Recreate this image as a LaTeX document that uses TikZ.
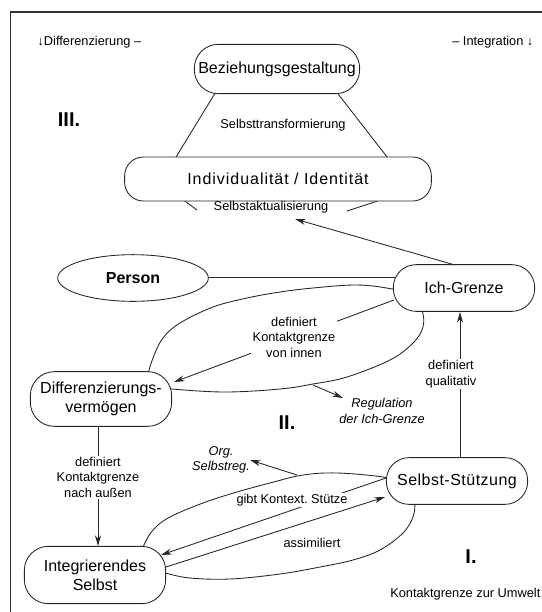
\documentclass[tikz,border=0pt]{standalone}
\usepackage{fontspec}
\setmainfont{Liberation Sans}
\newfontfamily\widesans[LetterSpace=6]{Liberation Sans}
\newfontfamily\semiwidesans[LetterSpace=3]{Liberation Sans}
\usetikzlibrary{arrows.meta,shapes.geometric}
\begin{document}
\frenchspacing
\begin{tikzpicture}[x=0.75pt,y=-0.75pt,
  ln/.style={line width=0.65pt, draw=black!85},
  box/.style={ln, fill=white, rounded corners=15pt, font=\fontsize{12}{14.5}\selectfont, align=center, inner sep=2pt},
  lbl/.style={font=\fontsize{9.6}{11.6}\selectfont, align=center, inner sep=1pt},
  wlbl/.style={lbl, fill=white},
  ilbl/.style={lbl, font=\fontsize{9.6}{11.6}\selectfont\itshape},
  arr/.style={ln, -{Stealth[length=8pt,width=4.5pt]}},
  num/.style={font=\fontsize{15}{17}\selectfont\bfseries, inner sep=0pt}
]
\useasboundingbox (0,0) rectangle (542,612);
\draw[line width=0.8pt, draw=black!80] (10.5,612) -- (10.5,12) -- (542,12);

% top texts
\node[lbl, anchor=west] (tdiff) at (36,42) {↓Differenzierung –};
\node[lbl, anchor=east] (tint) at (535,42) {– Integration ↓};
\node[num] (n3) at (69,120) {III.};

% ellipses (behind nodes)
\draw[ln] plot[smooth cycle, tension=0.6] coordinates {(147,380) (153,358) (163,338) (180,323) (213,307) (247,298) (280,292) (313,288) (357,285) (392,289) (413,296) (422,310) (423,327) (413,343) (390,360) (347,377) (313,384) (280,389) (225,392) (172,389) (152,386)};
\draw[ln] plot[smooth cycle, tension=0.6] coordinates {(138,562) (143,547) (153,530) (170,517) (203,503) (237,492) (270,483) (303,475) (337,473) (383,477) (403,483) (414,493) (415,502) (413,517) (403,533) (380,550) (353,560) (320,567) (280,574) (230,579) (190,578) (165,573) (145,568)};

% trapezoid lines
\coordinate (b1) at (217,90);
\coordinate (b2) at (173,162);
\coordinate (b3) at (335,90);
\coordinate (b4) at (391,162);
\coordinate (b5) at (178,196);
\coordinate (b6) at (197,210);
\coordinate (b7) at (393,196);
\coordinate (b8) at (347,211);
\draw[ln] (b1) -- (b2);
\draw[ln] (b3) -- (b4);
\draw[ln] (b5) -- (b6);
\draw[ln] (b7) -- (b8);
% person - ich line
\coordinate (p1) at (200,277);
\coordinate (p2) at (400,277);
\draw[ln] (p1) -- (p2);

% nodes
\node[box, minimum width=124pt, minimum height=37pt, rounded corners=18pt] (bez) at (277,69) {Beziehungsgestaltung};
\node[box, minimum width=230pt, minimum height=33pt, rounded corners=14pt, font=\fontsize{12}{14.5}\widesans] (ind) at (278,179) {Individualität / Identität};
\node[ln, ellipse, fill=white, minimum width=113pt, minimum height=35pt, inner sep=1pt, font=\fontsize{12}{14}\selectfont\bfseries] (person) at (133,278) {Person};
\node[box, minimum width=106pt, minimum height=35pt, rounded corners=17pt] (ich) at (464,288) {Ich-Grenze};
\node[box, minimum width=106pt, minimum height=41pt, rounded corners=18pt] (diff) at (101,399) {Differenzierungs-\\vermögen};
\node[box, minimum width=106pt, minimum height=35pt, rounded corners=17pt, font=\fontsize{12}{14.5}\semiwidesans] (sst) at (457,481) {Selbst-Stützung};
\node[box, minimum width=106pt, minimum height=43pt, rounded corners=18pt] (integ) at (95,575) {Integrierendes\\Selbst};

\node[lbl] (stt) at (283,125) {Selbsttransformierung};
\node[lbl] (sak) at (271,207) {Selbstaktualisierung};

% arrows
\coordinate (s1) at (455,265);
\coordinate (t1) at (295,219);
\draw[arr] (s1) -- (t1);

\coordinate (s2) at (394,300);
\coordinate (t2) at (174,382);
\draw[arr] (s2) -- (t2);
\node[wlbl] (l2) at (294,337) {definiert\\Kontaktgrenze\\von innen};

\coordinate (s3) at (313,385);
\coordinate (t3) at (343,398);
\draw[arr] (s3) -- (t3);
\node[ilbl] (l3) at (382,411) {Regulation\\der Ich-Grenze};
\node[num] (n2) at (287,423) {II.};

\coordinate (s4) at (460,457.5);
\coordinate (t4) at (460,312);
\draw[arr] (s4) -- (t4);
\node[wlbl] (l4) at (451,374) {definiert\\qualitativ};

\coordinate (s5) at (98,426.5);
\coordinate (t5) at (98,546);
\draw[arr] (s5) -- (t5);
\node[wlbl] (l5) at (98,477) {definiert\\Kontaktgrenze\\nach außen};

\coordinate (s6) at (297,475);
\coordinate (t6) at (250,460);
\draw[arr] (s6) -- (t6);
\node[ilbl] (l6) at (221,460) {Org.\\Selbstreg.};

\coordinate (s7) at (386,478);
\coordinate (t7) at (161,555);
\draw[arr] (s7) -- (t7);
\node[wlbl] (l7) at (292,500) {gibt Kontext.\ Stütze};

\coordinate (s8) at (166,567);
\coordinate (t8) at (385,497);
\draw[arr] (s8) -- (t8);
\node[lbl] (l8) at (312,543) {assimiliert};

\node[num] (n1) at (471,557) {I.};
\node[lbl, anchor=east] (kz) at (542,594) {Kontaktgrenze zur Umwelt};
\end{tikzpicture}
\end{document}
